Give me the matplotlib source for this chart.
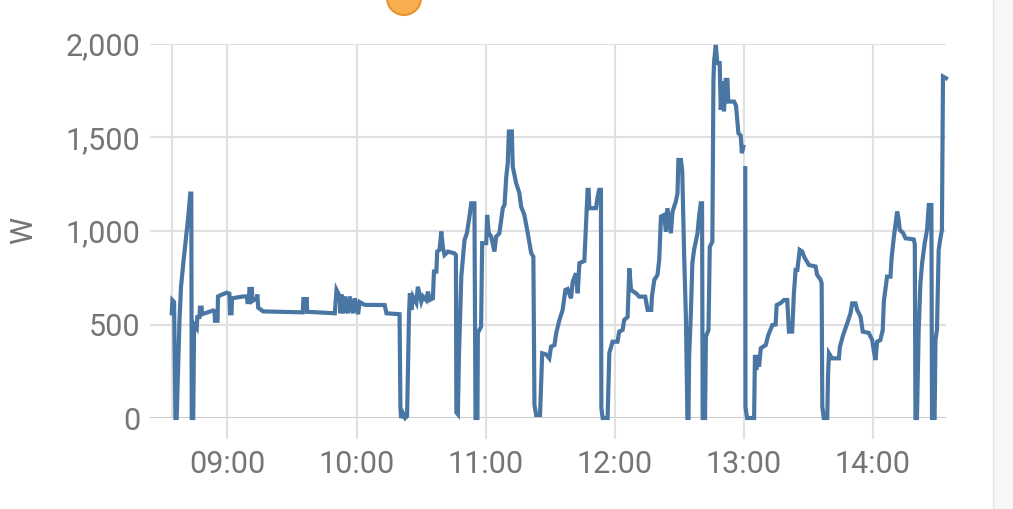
import matplotlib.pyplot as plt
import matplotlib.dates as mdates
from matplotlib.patches import Ellipse, Rectangle
from matplotlib.ticker import FuncFormatter
import numpy as np
import pandas as pd


# =====================
# Data (minute of day, watts)
# =====================
minutes = [
    514.1, 514.4, 515.2, 515.8, 516.4, 517.2, 517.7, 518.4, 519.5, 521.1,
    521.9, 522.7, 523.2, 523.4, 524.1, 524.5, 525.7, 526.0, 527.0, 527.2,
    528.0, 528.2, 533.4, 534.0, 534.2, 535.4, 535.6, 537.4, 539.6, 540.9,
    541.2, 541.9, 542.1, 547.3, 549.0, 549.3, 550.0, 550.2, 551.4, 551.5,
    553.5, 553.9, 554.3, 556.6, 573.6, 575.0, 575.3, 576.9, 577.0, 589.9,
    590.7, 592.2, 592.5, 593.0, 594.1, 594.5, 596.1, 596.8, 598.4, 599.2,
    600.7, 601.5, 603.8, 613.1, 613.9, 620.0, 620.4, 620.7, 621.6, 622.6,
    623.5, 624.4, 624.8, 625.5, 626.2, 627.8, 628.5, 630.1, 630.9, 632.4,
    633.2, 634.0, 635.5, 636.0, 637.1, 637.5, 638.6, 639.4, 640.1, 640.9,
    642.5, 645.6, 646.2, 646.4, 647.1, 647.6, 648.7, 650.2, 651.3, 652.5,
    653.3, 654.8, 655.3, 656.2, 656.4, 657.9, 658.4, 660.3, 660.7, 661.5,
    662.6, 664.1, 664.9, 666.4, 668.0, 668.8, 669.6, 670.3, 670.8, 672.2,
    672.6, 674.2, 675.7, 676.5, 678.0, 679.6, 681.2, 682.2, 682.7, 683.5,
    685.3, 686.3, 688.1, 689.6, 690.4, 692.0, 692.8, 694.3, 695.8, 697.1,
    698.1, 699.7, 700.5, 702.0, 702.8, 703.6, 705.9, 707.4, 707.9, 708.2,
    711.3, 712.1, 712.8, 713.6, 713.8, 714.4, 716.7, 717.5, 719.0, 721.3,
    722.1, 723.7, 724.4, 726.0, 726.8, 727.6, 729.9, 731.4, 734.2, 735.3,
    737.0, 737.3, 738.4, 739.9, 740.7, 741.5, 743.0, 743.8, 744.5, 746.1,
    746.9, 748.4, 749.2, 749.6, 750.8, 751.4, 752.3, 753.1, 753.8, 754.3,
    754.6, 755.4, 756.1, 756.9, 758.5, 759.2, 760.0, 760.6, 760.9, 762.0,
    762.4, 763.6, 764.2, 765.4, 765.9, 766.2, 767.0, 767.7, 768.8, 769.3,
    770.1, 770.8, 771.6, 772.4, 772.8, 775.5, 776.4, 777.5, 778.6, 779.1,
    779.8, 780.2, 780.7, 780.8, 781.5, 784.8, 785.2, 785.8, 786.6, 787.1,
    787.9, 790.2, 791.4, 793.3, 794.8, 795.3, 797.2, 798.7, 800.2, 801.0,
    802.5, 803.3, 804.1, 804.9, 806.0, 807.2, 808.0, 810.3, 813.4, 814.1,
    815.7, 816.2, 816.5, 817.2, 818.8, 819.2, 819.6, 821.0, 824.2, 824.7,
    826.2, 828.1, 829.6, 830.4, 831.9, 832.7, 834.3, 835.3, 838.1, 839.7,
    840.4, 841.2, 842.0, 843.5, 844.6, 845.1, 846.6, 848.2, 848.7, 849.7,
    851.3, 852.0, 852.5, 854.0, 855.2, 859.0, 859.5, 859.8, 860.5, 861.3,
    862.1, 862.9, 864.1, 865.2, 866.0, 867.2, 867.5, 868.7, 869.1, 869.8,
    870.6, 871.4, 872.1, 872.6, 874.0,
]

watts = [
    560, 630, 620, 0, 0, 310, 520, 700, 830, 1000,
    1090, 1200, 1200, 0, 0, 500, 480, 540, 540, 590,
    590, 555, 575, 570, 520, 520, 650, 660, 670, 665,
    560, 560, 640, 650, 650, 620, 620, 690, 690, 625,
    640, 660, 590, 570, 565, 565, 636, 636, 568, 560,
    685, 650, 560, 660, 560, 650, 560, 650, 560, 640,
    555, 620, 605, 604, 560, 555, 60, 0, 25, 0,
    10, 560, 668, 578, 650, 615, 702, 622, 650, 630,
    676, 631, 640, 783, 783, 890, 900, 997, 916, 872,
    890, 880, 870, 30, 20, 330, 756, 952, 988, 1077,
    1148, 1148, 0, 0, 455, 488, 935, 935, 1086, 988,
    970, 890, 970, 988, 1122, 1140, 1291, 1363, 1532, 1532,
    1345, 1256, 1202, 1131, 1086, 988, 881, 863, 70, 16,
    16, 346, 340, 319, 381, 390, 453, 524, 578, 685,
    690, 640, 729, 774, 667, 828, 840, 1220, 1220, 1122,
    1122, 1184, 1220, 1220, 53, 0, 0, 348, 408, 408,
    462, 471, 524, 540, 800, 685, 667, 649, 649, 578,
    578, 649, 738, 765, 845, 1077, 1086, 997, 1122, 988,
    1104, 1157, 1202, 1380, 1380, 1320, 863, 542, 0, 0,
    328, 560, 828, 899, 988, 1077, 1148, 1148, 0, 0,
    435, 471, 916, 943, 1808, 1906, 1995, 1898, 1898, 1648,
    1799, 1640, 1808, 1808, 1692, 1692, 1670, 1523, 1510, 1416,
    1450, None, 1336, 60, 0, 0, 337, 257, 337, 274,
    373, 390, 444, 497, 500, 604, 615, 631, 631, 462,
    462, 667, 792, 792, 899, 890, 863, 818, 810, 765,
    740, 720, 60, 0, 0, 239, 346, 319, 319, 381,
    444, 507, 560, 613, 613, 578, 542, 462, 455, 417,
    364, 310, 408, 417, 471, 622, 756, 756, 854, 961,
    1104, 1060, 1006, 990, 961, 955, 930, 0, 0, 471,
    720, 828, 935, 1006, 1139, 1139, 0, 0, 417, 471,
    899, 961, 1006, 1826, 1817,
]

y_ticks = [0, 500, 1000, 1500, 2000]
x_start_min = 504.0   # left edge of the chart (minute of day)
x_end_min = 874.0
y_label = "W"


def main():
    base = pd.Timestamp("2024-01-01")
    t = base + pd.to_timedelta(minutes, unit="min")
    w = np.array([np.nan if v is None else v for v in watts], dtype=float)

    plt.rcParams["font.family"] = ["Roboto", "DejaVu Sans"]
    grid_col = "#e0e0e0"
    text_col = "#757575"
    fs = 22

    fig = plt.figure(figsize=(10.13, 5.09), dpi=100)
    ax = fig.add_axes([150 / 1013, 91 / 509, 796 / 1013, 374 / 509])

    # grid
    for v in y_ticks[1:]:
        ax.axhline(v, color=grid_col, lw=1.5, zorder=0)
    ax.axhline(0, color="#cccccc", lw=2.2, zorder=1)
    ax.axvline(t[0], color=grid_col, lw=1.5, zorder=0)

    ax.xaxis.set_major_locator(mdates.HourLocator())
    ax.xaxis.set_major_formatter(mdates.DateFormatter("%H:%M"))
    ax.grid(axis="x", color=grid_col, lw=1.5, zorder=0)

    # line
    ax.plot(t, w, color="#4a76a3", lw=3.0, solid_joinstyle="miter",
            zorder=3, clip_on=False)

    ax.set_xlim(base + pd.to_timedelta(x_start_min, unit="min"),
                base + pd.to_timedelta(x_end_min, unit="min"))
    ax.set_ylim(0, 2000)
    ax.set_yticks(y_ticks)
    ax.yaxis.set_major_formatter(FuncFormatter(lambda v, p: f"{int(v):,}"))

    for s in ax.spines.values():
        s.set_visible(False)
    ax.tick_params(axis="y", length=0, pad=7, labelsize=fs, labelcolor=text_col)
    ax.tick_params(axis="x", length=15, width=1.5, color=grid_col, pad=8,
                   labelsize=fs, labelcolor=text_col)
    ax.set_ylabel(y_label, fontsize=fs, color=text_col, labelpad=20)

    # legend dot (cut off at the top) and right side panel
    fig.patches.append(Ellipse((404 / 1013, 1 - (-2) / 509), 34 / 1013, 34 / 509,
                               transform=fig.transFigure, facecolor="#f8ad4f",
                               edgecolor="#e8922c", lw=1.5))
    fig.patches.append(Rectangle((993 / 1013, 0), 20 / 1013, 1,
                                 transform=fig.transFigure, facecolor="#f7f7f7",
                                 edgecolor="none"))
    fig.add_artist(plt.Line2D([993 / 1013, 993 / 1013], [0, 1],
                              transform=fig.transFigure, color="#e6e6e6", lw=1))

    fig.savefig("out.png", dpi=100)


if __name__ == "__main__":
    main()
